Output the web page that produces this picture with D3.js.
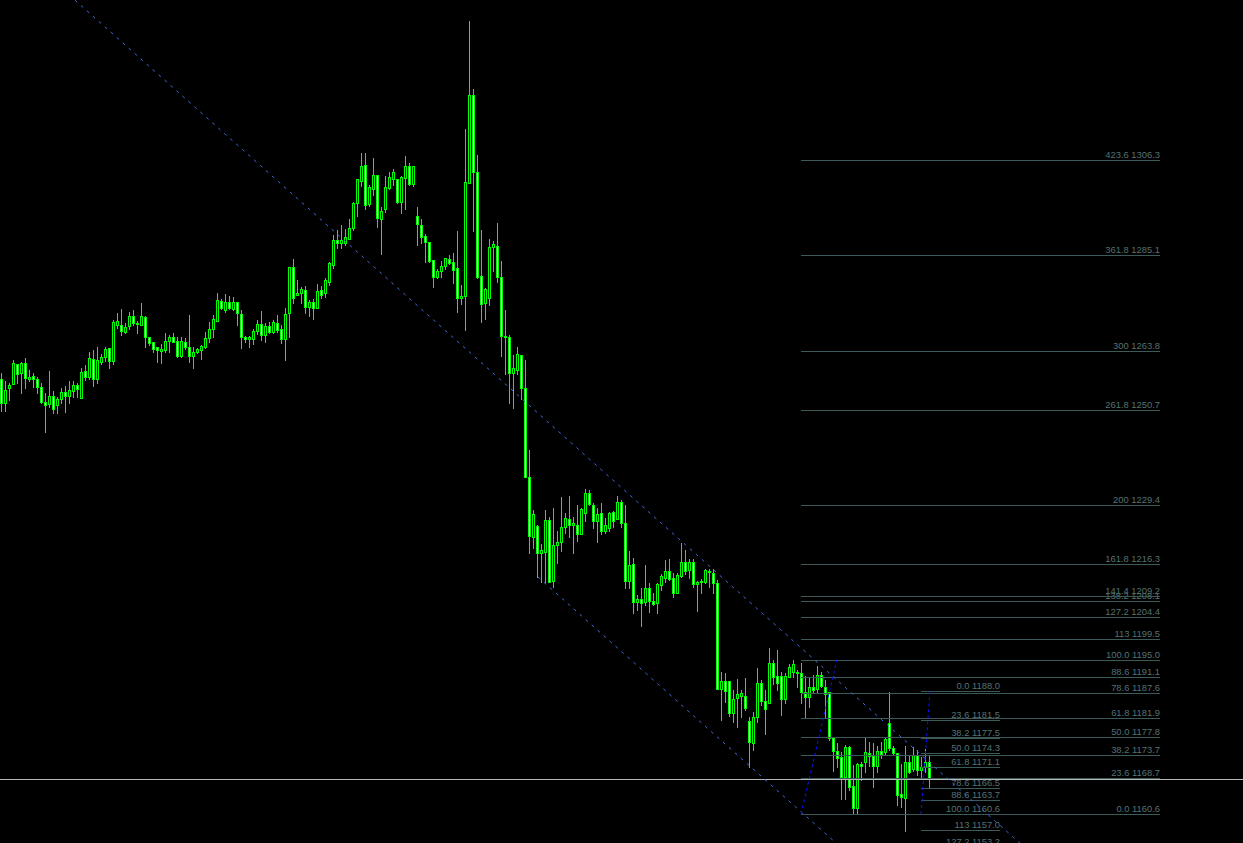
<!DOCTYPE html>
<html><head><meta charset="utf-8">
<script src="https://cdn.jsdelivr.net/npm/d3@7"></script>
<style>html,body{margin:0;padding:0;background:#000;overflow:hidden}svg{display:block}</style>
</head><body><svg id="c" width="1243" height="843"></svg>
<script>
// ---- candle data (index 0..232), prices ----
const opens = [1257.5,1252.2,1255.5,1256.4,1260.9,1258.8,1261.1,1257.5,1258.2,1257.5,
1255.7,1252.4,1251.9,1253.7,1251.7,1253.1,1254.6,1253.7,1254.8,1256.2,
1253.3,1259.3,1258.0,1262.0,1257.5,1261.3,1262.4,1264.4,1261.5,1269.5,
1269.5,1268.0,1269.3,1271.5,1270.0,1269.5,1271.3,1266.9,1265.8,1264.6,
1263.7,1264.0,1266.0,1266.9,1266.0,1262.6,1265.8,1264.6,1262.6,1263.5,
1264.0,1264.6,1266.6,1268.7,1270.4,1274.9,1272.9,1274.7,1273.1,1274.7,
1272.0,1266.9,1266.4,1266.4,1268.2,1269.8,1267.3,1269.3,1268.0,1270.0,
1268.7,1266.4,1272.2,1282.5,1276.2,1276.7,1277.3,1273.5,1274.7,1273.3,
1277.3,1276.7,1279.1,1282.9,1288.5,1287.8,1287.8,1288.7,1291.2,1296.7,
1301.6,1305.2,1296.5,1299.8,1303.0,1293.2,1295.4,1300.1,1302.1,1302.1,
1296.9,1302.3,1305.0,1301.0,1293.8,1291.8,1289.4,1288.0,1284.0,1280.2,
1281.6,1282.7,1284.2,1283.6,1282.2,1275.6,1276.0,1301.2,1320.8,1303.6,
1280.5,1274.4,1275.6,1286.9,1287.1,1280.2,1267.1,1266.9,1258.8,1259.5,
1262.9,1255.5,1235.7,1222.3,1224.8,1218.7,1219.0,1226.1,1212.5,1220.5,
1221.2,1224.5,1226.3,1225.0,1225.0,1223.0,1227.7,1232.1,1229.4,1225.9,
1227.7,1223.6,1224.3,1227.9,1226.3,1230.1,1225.4,1212.5,1216.3,1207.8,
1208.5,1207.8,1211.0,1208.1,1207.6,1211.6,1213.2,1214.7,1213.2,1209.8,
1213.6,1216.7,1215.0,1216.7,1211.8,1212.3,1212.3,1214.7,1214.3,1212.1,
1188.5,1190.2,1190.2,1183.1,1186.4,1186.9,1186.9,1181.3,1176.4,1182.2,
1189.8,1185.8,1185.3,1194.2,1191.4,1191.4,1186.2,1191.1,1192.2,1192.2,
1192.0,1187.8,1186.7,1188.9,1188.5,1191.6,1188.9,1187.8,1177.5,1174.6,
1173.3,1168.8,1175.5,1166.8,1161.9,1171.7,1172.2,1174.2,1173.5,1171.3,
1174.6,1174.4,1180.9,1175.3,1174.2,1165.1,1164.2,1172.2,1170.6,1173.7,
1170.4,1171.1,1172.2];
const highs = [1258.8,1257.1,1256.6,1261.7,1260.9,1261.3,1262.2,1259.5,1258.8,1258.0,
1256.6,1254.4,1259.3,1254.8,1253.5,1255.5,1256.0,1257.1,1257.1,1256.6,
1260.0,1260.6,1263.5,1264.0,1264.6,1263.1,1264.6,1264.4,1270.7,1272.2,
1273.1,1270.0,1272.4,1272.9,1270.4,1274.4,1271.5,1266.9,1265.8,1264.6,
1265.3,1267.8,1267.3,1267.8,1266.9,1266.9,1266.6,1271.8,1264.6,1264.4,
1265.1,1268.0,1270.2,1271.8,1276.7,1275.3,1276.4,1276.0,1275.8,1274.7,
1272.9,1267.1,1267.1,1268.7,1270.7,1272.7,1270.0,1270.2,1270.7,1271.8,
1269.5,1273.3,1282.5,1284.2,1279.6,1278.0,1278.2,1275.1,1275.3,1278.7,
1278.2,1280.0,1283.6,1289.6,1290.7,1291.8,1290.9,1293.2,1296.9,1302.1,
1307.9,1307.9,1300.7,1306.7,1303.0,1295.8,1302.7,1303.6,1304.3,1302.1,
1302.7,1307.2,1305.6,1305.0,1295.8,1293.2,1289.8,1288.0,1284.0,1282.0,
1283.8,1284.5,1285.1,1285.6,1290.5,1278.5,1313.2,1337.3,1322.1,1307.4,
1290.7,1277.8,1288.7,1288.3,1292.3,1283.8,1272.9,1267.3,1262.9,1264.6,
1262.9,1261.7,1241.7,1228.3,1225.0,1220.8,1228.3,1226.8,1228.8,1223.6,
1231.2,1227.7,1231.4,1226.8,1229.4,1228.8,1233.0,1232.8,1229.9,1228.8,
1229.9,1226.5,1227.9,1228.1,1231.4,1230.6,1229.4,1219.2,1217.6,1209.4,
1211.0,1216.1,1212.1,1209.8,1212.1,1214.1,1217.2,1217.4,1214.3,1214.3,
1221.0,1219.4,1217.4,1217.4,1212.5,1213.0,1215.2,1215.2,1215.2,1212.7,
1192.2,1192.0,1190.2,1188.2,1190.7,1188.2,1190.9,1182.2,1183.3,1193.1,
1190.5,1188.2,1197.6,1194.9,1197.1,1192.2,1192.0,1194.0,1194.9,1192.7,
1194.2,1191.4,1191.1,1191.6,1193.6,1192.2,1190.5,1187.8,1177.8,1176.4,
1174.4,1176.0,1175.8,1171.5,1172.0,1172.2,1177.8,1176.6,1176.4,1175.8,
1176.6,1177.8,1187.8,1175.8,1174.2,1171.7,1175.8,1173.7,1175.5,1174.9,
1173.3,1175.1,1173.7];
const lows = [1250.4,1250.4,1252.8,1256.4,1256.6,1254.4,1255.5,1257.1,1255.7,1254.4,
1252.2,1245.7,1251.3,1249.9,1249.9,1252.2,1250.2,1252.2,1253.5,1253.5,
1253.3,1257.3,1257.5,1256.0,1256.6,1260.9,1261.5,1260.0,1260.9,1268.9,
1267.3,1267.8,1268.7,1269.5,1267.8,1269.5,1264.6,1265.1,1263.5,1261.3,
1261.1,1263.5,1263.5,1265.8,1262.4,1262.4,1264.2,1261.3,1260.0,1263.3,
1262.0,1264.4,1265.8,1266.9,1270.4,1273.1,1272.4,1273.1,1272.9,1269.5,
1264.4,1265.8,1264.6,1265.3,1267.5,1266.2,1265.8,1267.8,1267.8,1268.0,
1265.5,1261.7,1266.9,1274.4,1276.2,1274.4,1272.2,1271.5,1270.9,1273.3,
1275.6,1275.8,1278.5,1282.2,1286.7,1286.7,1287.4,1288.7,1290.7,1293.8,
1300.5,1295.4,1296.0,1298.5,1291.4,1285.4,1294.7,1299.8,1300.7,1296.7,
1294.5,1295.4,1300.7,1300.5,1287.4,1287.8,1283.6,1283.6,1278.0,1280.0,
1280.2,1282.0,1283.1,1278.9,1272.4,1274.2,1268.4,1301.2,1290.5,1280.0,
1270.2,1270.9,1274.0,1281.6,1279.1,1262.6,1258.6,1252.2,1251.0,1258.6,
1253.1,1235.7,1218.7,1219.9,1213.4,1212.3,1212.3,1212.3,1211.2,1216.5,
1219.2,1223.2,1222.3,1218.7,1221.4,1223.0,1225.9,1229.4,1224.3,1221.2,
1223.0,1223.2,1223.6,1224.5,1226.3,1224.5,1211.0,1211.0,1205.4,1206.1,
1202.5,1207.2,1205.6,1207.2,1205.4,1210.5,1212.3,1212.7,1208.9,1209.8,
1213.4,1214.1,1213.2,1211.2,1205.8,1209.8,1212.1,1211.2,1209.8,1188.5,
1181.5,1185.6,1182.4,1181.1,1180.0,1182.2,1183.8,1171.1,1174.9,1181.1,
1184.9,1178.4,1185.3,1189.6,1188.2,1182.7,1185.3,1191.1,1191.1,1188.9,
1185.3,1182.2,1184.4,1187.6,1187.6,1188.9,1182.2,1177.1,1170.2,1171.1,
1163.9,1163.9,1166.0,1160.8,1160.6,1168.2,1170.0,1171.3,1166.6,1170.0,
1173.1,1173.7,1174.9,1173.7,1162.6,1162.2,1156.8,1169.7,1170.2,1169.3,
1168.8,1170.0,1166.4];
const closes = [1252.2,1255.1,1256.2,1261.1,1258.6,1261.1,1257.7,1258.0,1257.5,1255.7,
1252.4,1251.7,1253.7,1250.8,1253.1,1254.6,1253.7,1255.1,1256.2,1255.3,
1259.1,1258.0,1262.2,1257.5,1261.7,1262.4,1264.2,1261.5,1270.2,1270.4,
1268.2,1269.1,1271.5,1270.0,1269.8,1271.5,1266.9,1265.5,1264.2,1264.0,
1264.2,1266.0,1266.9,1265.8,1262.6,1266.0,1264.6,1262.6,1263.5,1264.2,
1264.9,1266.6,1268.7,1270.9,1275.1,1273.3,1274.7,1273.3,1274.7,1272.2,
1266.9,1266.4,1266.9,1268.2,1269.8,1267.3,1269.3,1268.0,1270.2,1268.4,
1266.4,1272.0,1282.5,1275.6,1276.7,1277.6,1273.5,1274.7,1273.3,1277.1,
1276.2,1279.6,1283.3,1288.5,1287.8,1288.5,1289.1,1291.2,1296.7,1302.1,
1305.0,1296.3,1300.3,1303.0,1293.4,1294.9,1300.3,1302.5,1303.6,1296.9,
1302.5,1305.0,1301.0,1305.0,1292.0,1289.1,1288.0,1283.8,1280.2,1281.6,
1282.7,1284.5,1283.3,1281.8,1275.6,1276.0,1301.4,1320.8,1303.6,1280.2,
1274.2,1277.6,1286.9,1287.6,1280.2,1267.1,1266.9,1258.8,1260.0,1263.1,
1255.5,1235.7,1222.5,1227.4,1218.7,1219.4,1226.1,1212.3,1220.5,1221.2,
1224.5,1226.5,1225.0,1225.4,1223.0,1228.6,1232.1,1229.7,1225.9,1227.4,
1223.6,1225.0,1227.7,1225.9,1230.1,1225.4,1212.5,1216.1,1207.8,1208.5,
1207.6,1211.0,1208.1,1207.4,1211.8,1213.6,1214.7,1213.0,1209.8,1213.8,
1216.7,1214.7,1216.7,1211.8,1212.3,1212.5,1215.0,1214.5,1212.1,1188.5,
1190.2,1188.0,1183.1,1186.2,1187.3,1187.6,1184.2,1176.6,1182.2,1189.8,
1185.8,1184.0,1194.2,1191.1,1189.8,1186.2,1191.4,1193.4,1194.0,1192.0,
1187.8,1186.7,1188.9,1188.2,1191.6,1189.1,1187.3,1177.5,1174.6,1173.1,
1168.8,1175.5,1166.6,1161.9,1171.7,1171.3,1174.4,1173.5,1171.3,1174.6,
1174.0,1177.3,1175.3,1174.2,1164.8,1164.4,1172.2,1170.0,1173.7,1170.4,
1171.1,1172.2,1168.4];

// ---- Fibonacci retracement A (right, 0 at 1160.6, 100 at 1195.0) ----
const fibALevels = ["0.0","23.6","38.2","50.0","61.8","78.6","88.6","100.0","113","127.2","138.2","141.4","161.8","200","261.8","300","361.8","423.6"];
const fibAPrices = [1160.6,1168.7,1173.7,1177.8,1181.9,1187.6,1191.1,1195.0,1199.5,1204.4,1208.1,1209.2,1216.3,1229.4,1250.7,1263.8,1285.1,1306.3];
const fibAAnchors = [{t:200, p:1160.6},{t:209, p:1195.0}];
const fibAEnd = 289.75;
// ---- Fibonacci retracement B (left, 0 at 1188.0, 100 at 1160.6) ----
const fibBLevels = ["0.0","23.6","38.2","50.0","61.8","78.6","88.6","100.0","113","127.2"];
const fibBPrices = [1188.0,1181.5,1177.5,1174.3,1171.1,1166.5,1163.7,1160.6,1157.0,1153.2];
const fibBAnchors = [{t:230, p:1160.6},{t:232.25, p:1188.0}];
const fibBEnd = 249.75;
// ---- channel trend lines ----
const channelUpper = [{t:18.5, p:1341.9},{t:254.75, p:1154.1}];
const channelLower = [{t:134.25, p:1213.4},{t:208.8, p:1154.1}];
const bidPrice = 1168.4;

const W = 1243, H = 843;
const svg = d3.select("#c");
svg.append("rect").attr("width", W).attr("height", H).attr("fill", "#000");

const x = d3.scaleLinear().domain([0, 1]).range([1, 5]); // 4 px per bar
const y = d3.scaleLinear().domain([1154.14, 1341.94]).range([H, 0]);

const g = svg.append("g").attr("shape-rendering", "crispEdges");

// Fibo lines + labels
const lineCol = "#3c5a5a", txtCol = "#557272";
function drawFib(levels, prices, anchors, endT) {
  const grp = svg.append("g");
  prices.forEach((p, k) => {
    const yy = Math.round(y(p)) + 0.5;
    grp.append("line").attr("x1", x(anchors[0].t)).attr("x2", x(endT))
      .attr("y1", yy).attr("y2", yy).attr("stroke", lineCol).attr("stroke-width", 1)
      .attr("shape-rendering", "crispEdges");
    grp.append("text").attr("x", x(endT)).attr("y", yy - 2.5).attr("text-anchor", "end")
      .attr("fill", txtCol).attr("font-family", "Liberation Sans, Arial, sans-serif").attr("font-size", 9.4)
      .text(levels[k] + " " + p.toFixed(1));
  });
}
drawFib(fibALevels, fibAPrices, fibAAnchors, fibAEnd);
drawFib(fibBLevels, fibBPrices, fibBAnchors, fibBEnd);

// bid line
svg.append("line").attr("x1", 0).attr("x2", W).attr("y1", Math.round(y(bidPrice)) + 0.5).attr("y2", Math.round(y(bidPrice)) + 0.5)
  .attr("stroke", "#b8b8b8").attr("stroke-width", 1).attr("shape-rendering", "crispEdges");

// candles
const data = opens.map((o, i) => ({i, o, h: highs[i], l: lows[i], c: closes[i]}));
data.forEach(d => {
  const cx = Math.round(x(d.i));
  const yh = Math.round(y(d.h)), yl = Math.round(y(d.l));
  const yt = Math.round(y(Math.max(d.o, d.c))), yb = Math.round(y(Math.min(d.o, d.c)));
  g.append("rect").attr("x", cx).attr("y", yh).attr("width", 1).attr("height", Math.max(1, yl - yh + 1)).attr("fill", "#00ff00");
  g.append("rect").attr("x", cx - 1).attr("y", yt).attr("width", 3).attr("height", Math.max(1, yb - yt + 1)).attr("fill", "#00ff00");
  if (yb - yt >= 2) {
    g.append("rect").attr("x", cx).attr("y", yt + 1).attr("width", 1).attr("height", yb - yt - 1)
      .attr("fill", d.c < d.o ? "#ffffff" : "#000000");
  }
});

// lines
const ln = d3.line().x(d => x(d.t)).y(d => y(d.p));
svg.append("path").attr("d", ln(channelUpper)).attr("fill", "none").attr("stroke", "#4169e1").attr("stroke-width", 1).attr("stroke-dasharray", "3,5");
svg.append("path").attr("d", ln(channelLower)).attr("fill", "none").attr("stroke", "#4169e1").attr("stroke-width", 1).attr("stroke-dasharray", "3,5");
svg.append("path").attr("d", ln(fibAAnchors)).attr("fill", "none").attr("stroke", "#1010ff").attr("stroke-width", 1).attr("stroke-dasharray", "3,3");
svg.append("path").attr("d", ln(fibBAnchors)).attr("fill", "none").attr("stroke", "#1010ff").attr("stroke-width", 1).attr("stroke-dasharray", "3,3");
</script></body></html>
